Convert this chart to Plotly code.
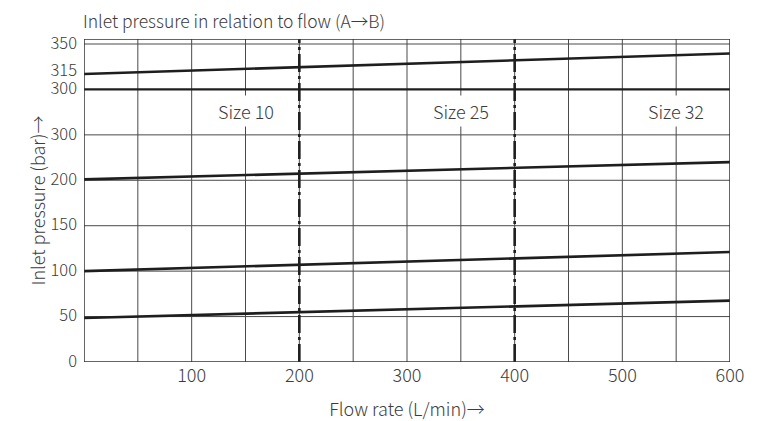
import plotly.graph_objects as go

# ---- data ----
flow = [0, 600]                      # L/min
# pressure curves (values in axis position units; upper section 300-350 is a broken scale)
p_50 = [48.5, 67.5]
p_100 = [100, 121]
p_200 = [201, 220]
p_315 = [317, 339.5]

x_ticks = [100, 200, 300, 400, 500, 600]
x_grid = [50, 100, 150, 200, 250, 300, 350, 400, 450, 500, 550]
y_tickvals = [0, 50, 100, 150, 200, 250, 300, 320, 350]
y_ticktext = ["0", "50", "100", "150", "200", "300", "300", "315", "350"]
y_grid = [50, 100, 150, 200, 250, 350]
separator_y = 300
size_bounds = [200, 400]
size_names = ["Size 10", "Size 25", "Size 32"]
size_x = [150, 350, 550]
size_label_y = 276

font_family = "Noto Sans CJK JP, Noto Sans, sans-serif"
line_color = "#1e1e1e"
grid_color = "#4a4a4a"
text_color = "#3c3c3c"
Y0, Y1 = 0, 355.5

fig = go.Figure()

shapes = []
for gx in x_grid:
    shapes.append(dict(type="line", xref="x", yref="y", x0=gx, x1=gx, y0=Y0, y1=Y1,
                       line=dict(color=grid_color, width=1), layer="below"))
for gy in y_grid:
    shapes.append(dict(type="line", xref="x", yref="y", x0=0, x1=600, y0=gy, y1=gy,
                       line=dict(color=grid_color, width=1), layer="below"))
shapes.append(dict(type="line", xref="x", yref="y", x0=0, x1=600, y0=separator_y, y1=separator_y,
                   line=dict(color=line_color, width=2.2)))
for b in size_bounds:
    shapes.append(dict(type="line", xref="x", yref="y", x0=b, x1=b, y0=Y0, y1=Y1,
                       line=dict(color=line_color, width=2.6, dash="18px,4px,3px,4px")))
# frame
shapes.append(dict(type="rect", xref="x", yref="y", x0=0, x1=600, y0=Y0, y1=Y1,
                   line=dict(color="#333333", width=1.5)))

for ys in [p_50, p_100, p_200, p_315]:
    fig.add_trace(go.Scatter(x=flow, y=ys, mode="lines",
                             line=dict(color=line_color, width=2.6),
                             showlegend=False, hoverinfo="skip"))

light = dict(family=font_family, color=text_color, weight=300)

annotations = []
for name, sx in zip(size_names, size_x):
    annotations.append(dict(x=sx, y=size_label_y, xref="x", yref="y", text=name,
                            showarrow=False, bgcolor="white", borderpad=2,
                            font=dict(size=18, **light)))
annotations.append(dict(x=0, y=1, xref="paper", yref="paper", xanchor="left", yanchor="bottom",
                        yshift=4, xshift=-3, text="Inlet pressure in relation to flow (A→B)",
                        showarrow=False, font=dict(size=17.5, **light)))

# the page body adds an 8px offset; size and margins compensate for it
fig.update_layout(
    width=750, height=413,
    margin=dict(l=76, r=28, t=31, b=58.5),
    paper_bgcolor="white", plot_bgcolor="white",
    font=dict(size=18, **light),
    shapes=shapes, annotations=annotations,
    xaxis=dict(range=[0, 600], tickvals=x_ticks, ticktext=[str(v) for v in x_ticks],
               showgrid=False, zeroline=False, showline=False, ticks="", automargin=False,
               tickfont=dict(size=18, **light), ticklabelstandoff=1,
               title=dict(text="Flow rate (L/min)→", font=dict(size=18, **light), standoff=33)),
    yaxis=dict(range=[Y0, Y1], tickvals=y_tickvals, ticktext=y_ticktext,
               showgrid=False, zeroline=False, showline=False, ticks="", automargin=False,
               tickfont=dict(size=16.5, **light), ticklabelshift=-1, ticklabelstandoff=6,
               title=dict(text="Inlet pressure (bar)→", font=dict(size=18, **light), standoff=0)),
)

fig.write_html("out.html")
